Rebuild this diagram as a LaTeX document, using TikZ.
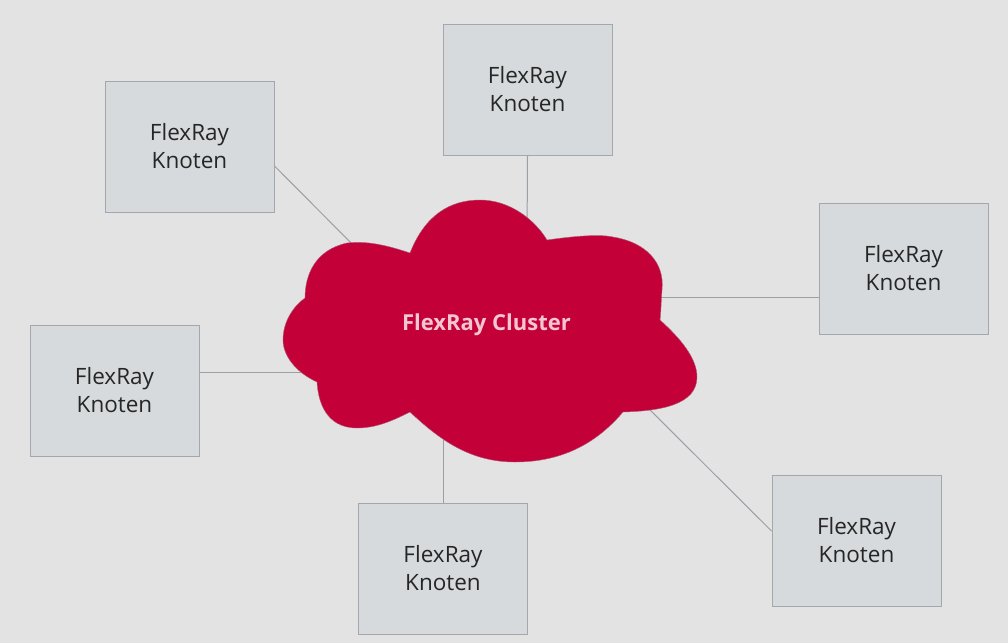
\documentclass[tikz,border=0pt]{standalone}
\usepackage{fontspec}
\setmainfont{Open Sans}
\usetikzlibrary{calc}
\definecolor{bg}{HTML}{E3E3E3}
\definecolor{boxfill}{HTML}{D7DADD}
\definecolor{boxline}{HTML}{A3A8AC}
\definecolor{conn}{HTML}{9AA0A4}
\definecolor{cloudred}{HTML}{C40039}
\definecolor{cloudtext}{HTML}{F4C6D2}
\definecolor{txt}{HTML}{262626}
\tikzset{
  knoten/.style={draw=boxline, line width=1pt, fill=boxfill, minimum width=169pt, minimum height=131pt,
    inner sep=0pt, align=center, text=txt, font=\fontsize{22.5}{28}\selectfont},
  conline/.style={draw=conn, line width=1pt},
}
\begin{document}
\begin{tikzpicture}[x=1pt,y=-1pt]
\fill[bg] (0,0) rectangle (1008,643);
\useasboundingbox (0,0) rectangle (1008,643);
% nodes
\node[knoten] (b1) at (189.5,146.5) {FlexRay\\Knoten};
\node[knoten] (b2) at (527.5,89.5) {FlexRay\\Knoten};
\node[knoten] (b3) at (903.5,268.5) {FlexRay\\Knoten};
\node[knoten] (b4) at (114.5,390.5) {FlexRay\\Knoten};
\node[knoten] (b5) at (443,568.5) {FlexRay\\Knoten};
\node[knoten] (b6) at (856.5,540.5) {FlexRay\\Knoten};
% connector ends inside the cloud
\coordinate (c1) at (365,257);
\coordinate (c2) at (527,245);
\coordinate (c3) at (650,297);
\coordinate (c4) at (310,372);
\coordinate (c5) at (443,440);
\coordinate (c6) at (640,400);
\draw[conline] ($(b1.east)+(0,19.5)$) -- (c1);
\draw[conline] (b2.south) -- (c2);
\draw[conline] ($(b3.west)+(0,28.5)$) -- (c3);
\draw[conline] ($(b4.east)+(0,-18.5)$) -- (c4);
\draw[conline] (b5.north) -- (c5);
\draw[conline] ($(b6.west)+(0,-9.5)$) -- (c6);
% cloud
\fill[cloudred, draw=conn!60!cloudred, line width=0.4pt]
  (410,253) .. controls (425,215) and (450,200) .. (480,200)
  .. controls (510,200) and (535,220) .. (547,240)
  .. controls (575,236) and (600,234) .. (613,237)
  .. controls (645,242) and (665,262) .. (662,290)
  .. controls (661,303) and (661,312) .. (660,320)
  .. controls (680,338) and (697,358) .. (697,377)
  .. controls (697,405) and (660,411) .. (623,412)
  .. controls (595,445) and (560,462) .. (515,462)
  .. controls (470,462) and (440,440) .. (410,412)
  .. controls (390,422) and (375,428) .. (357,428)
  .. controls (325,428) and (318,400) .. (317,382)
  .. controls (295,372) and (283,355) .. (283,340)
  .. controls (283,320) and (295,305) .. (305,298)
  .. controls (305,275) and (315,250) .. (347,243)
  .. controls (370,240) and (395,248) .. (410,253) -- cycle;
\node[text=cloudtext, font=\fontsize{22}{26}\selectfont\bfseries] (cl) at (486.5,325) {FlexRay Cluster};
\end{tikzpicture}
\end{document}
